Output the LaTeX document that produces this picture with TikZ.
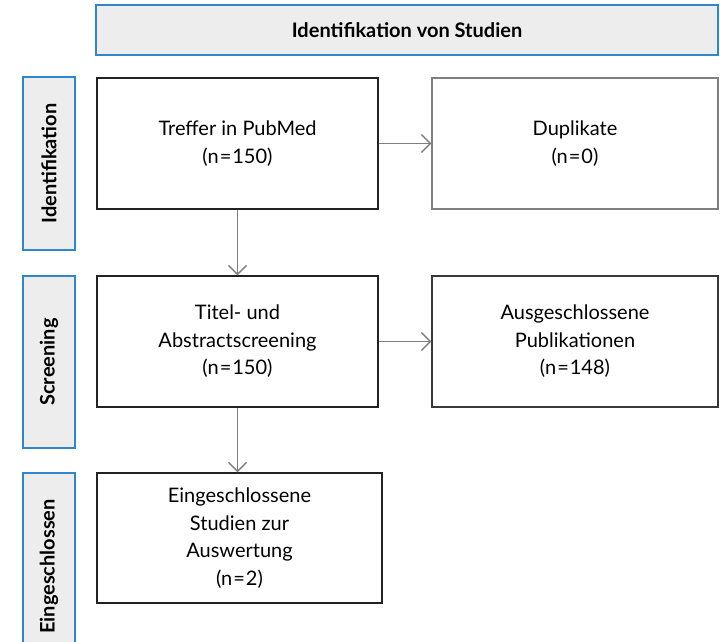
\documentclass[tikz,border=0pt]{standalone}
\usepackage{fontspec}
\setmainfont{Lato}
\usetikzlibrary{arrows.meta}
\definecolor{sidefill}{HTML}{EDEDED}
\definecolor{sideblue}{HTML}{2E86CC}
\definecolor{boxline}{HTML}{222222}
\definecolor{arrowgray}{HTML}{7F7F7F}
\newcommand{\eq}{\kern1pt=\kern1pt}
\begin{document}
\begin{tikzpicture}[x=1pt, y=-1pt,
	head box/.style={draw=sideblue, fill=sidefill, line width=1.3pt, minimum width=622pt, minimum height=50pt, font=\fontsize{20}{24}\selectfont\bfseries},
	side box/.style={draw=sideblue, fill=sidefill, line width=1.3pt, rotate=90, minimum height=52pt, font=\fontsize{20}{24}\selectfont\bfseries},
	box/.style={draw=boxline, line width=1.4pt, minimum width=281pt, minimum height=131pt, align=center, font=\fontsize{20}{27.5}\selectfont},
	gray box/.style={box, draw=arrowgray, minimum width=286pt},
	flow/.style={draw=arrowgray, line width=1.3pt, -{Straight Barb[length=9pt, width=18pt]}}]
	\useasboundingbox (0,0) rectangle (720,641);
	\clip (0,0) rectangle (720,641);
	% Kopfzeile
	\node[head box] (head) at (407,30) {Identifikation von Studien};
	% Phasen links
	\node[side box, minimum width=173pt] (phase1) at (49,163.5) {Identifikation};
	\node[side box, minimum width=172pt] (phase2) at (49,362) {Screening};
	\node[side box, minimum width=187pt] (phase3) at (49,566.5) {Eingeschlossen};
	% Kaesten
	\node[box] (treffer) at (237.5,143.5) {Treffer in PubMed\\(n\eq150)};
	\node[gray box] (dupl) at (575,143.5) {Duplikate\\(n\eq0)};
	\node[box] (screen) at (237.5,341.5) {Titel- und\\Abstractscreening\\(n\eq150)};
	\node[gray box, draw=boxline!90] (ausg) at (575,341.5) {Ausgeschlossene\\Publikationen\\(n\eq148)};
	\node[box, minimum width=285pt, minimum height=130pt] (eing) at (239.5,538) {Eingeschlossene\\Studien zur\\Auswertung\\(n\eq2)};
	% Pfeile
	\draw[flow] (treffer) -- (dupl);
	\draw[flow] (screen) -- (ausg);
	\draw[flow] (treffer) -- (screen);
	\draw[flow] (screen.south) -- (screen.south |- eing.north);
\end{tikzpicture}
\end{document}
